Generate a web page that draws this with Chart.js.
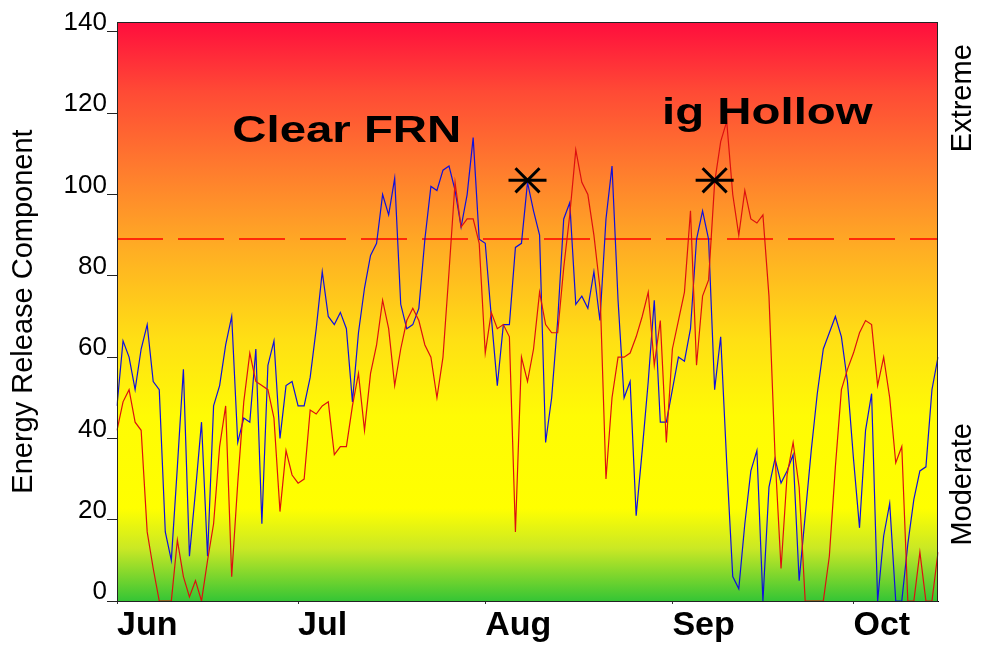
<!DOCTYPE html>
<html>
<head>
<meta charset="utf-8">
<script src="https://cdn.jsdelivr.net/npm/chart.js@4.4.1/dist/chart.umd.min.js"></script>
<style>
  html, body { margin: 0; padding: 0; background: #fff; }
  #wrap { width: 982px; height: 645px; }
</style>
</head>
<body>
<div id="wrap"><canvas id="myChart" width="982" height="645"></canvas></div>
<script>
// daily values, Jun 1 .. Oct 15
const blueValues = [
  48, 64, 60, 52, 62, 68, 54, 52, 17, 10, 33, 57, 11, 27, 44, 11, 48, 53, 63, 70,
  39, 45, 44, 62, 19, 58, 64, 40, 53, 54, 48, 48, 55, 67, 81, 70, 68, 71, 67, 49,
  66, 77, 85, 88, 100, 95, 104, 73, 67, 68, 72, 89, 102, 101, 106, 107, 101, 92, 100, 114,
  89, 88, 70, 53, 68, 68, 87, 88, 103, 96, 90, 39, 50, 69, 94, 98, 73, 75, 72, 81,
  69, 94, 107, 74, 50, 54, 21, 37, 54, 74, 44, 44, 52, 60, 59, 67, 89, 96, 89, 52,
  65, 34, 6, 3, 19, 32, 37, 0, 28, 35, 29, 32, 36, 5, 21, 37, 51, 62, 66, 70,
  65, 54, 35, 18, 42, 51, 0, 16, 24, 0, 0, 14, 25, 32, 33, 52, 60
];
const redValues = [
  42, 49, 52, 44, 42, 17, 8, 0, 0, 0, 15, 6, 1, 5, 0, 10, 19, 38, 48, 6,
  29, 49, 61, 54, 53, 52, 45, 22, 37, 31, 29, 30, 47, 46, 48, 49, 36, 38, 38, 48,
  56, 42, 56, 63, 74, 67, 53, 62, 69, 72, 69, 63, 60, 50, 60, 81, 103, 92, 94, 94,
  88, 61, 71, 67, 68, 65, 17, 60, 54, 62, 76, 68, 66, 66, 82, 95, 111, 103, 100, 90,
  77, 30, 50, 60, 60, 61, 65, 70, 76, 58, 69, 39, 62, 69, 76, 96, 58, 75, 79, 103,
  113, 118, 100, 90, 101, 94, 93, 95, 75, 36, 8, 31, 39, 28, 0, 0, 0, 0, 11, 33,
  52, 57, 61, 66, 69, 68, 53, 60, 50, 34, 38, 0, 0, 12, 0, 0, 12
];
const monthNames = ['Jun', 'Jul', 'Aug', 'Sep', 'Oct'];
const monthStarts = [0, 30, 61, 92, 122];
const starDays = [68, 99];
const starValues = [103.5, 103.5];
const thresholdValue = 89;
const yTicks = [0, 20, 40, 60, 80, 100, 120, 140];

// one label per day
const labels = [];
const start = new Date(2000, 5, 1);
for (let i = 0; i < blueValues.length; i++) {
  const d = new Date(start.getTime() + i * 86400000);
  labels.push((d.getMonth() + 1) + '/' + d.getDate());
}

const starPoints = starDays.map((d, i) => ({ x: labels[d], y: starValues[i] }));

const notes = [
  { text: 'Clear FRN', day: 19.1, value: 112.9 },
  { text: 'ig Hollow', day: 90.3, value: 117.4 }
];
const sideNotes = [
  { text: 'Extreme', value: 123.7 },
  { text: 'Moderate', value: 28.7 }
];

const bgPlugin = {
  id: 'bg',
  beforeDraw(chart) {
    const { ctx, chartArea: a } = chart;
    const g = ctx.createLinearGradient(0, a.top, 0, a.bottom);
    g.addColorStop(0.00, '#ff0d3d');
    g.addColorStop(0.12, '#ff4a35');
    g.addColorStop(0.25, '#ff7a2e');
    g.addColorStop(0.40, '#ffb023');
    g.addColorStop(0.55, '#ffe014');
    g.addColorStop(0.68, '#fffb05');
    g.addColorStop(0.84, '#ffff00');
    g.addColorStop(0.91, '#c9e825');
    g.addColorStop(1.00, '#35c535');
    ctx.save();
    ctx.fillStyle = g;
    ctx.fillRect(a.left, a.top, a.right - a.left, a.bottom - a.top);
    ctx.restore();
  },
  beforeDatasetsDraw(chart) {
    const { ctx, chartArea: a, scales } = chart;
    const y = Math.round(scales.y.getPixelForValue(thresholdValue));
    ctx.save();
    ctx.strokeStyle = '#ff0000';
    ctx.lineWidth = 1.3;
    ctx.setLineDash([46, 15]);
    ctx.beginPath();
    ctx.moveTo(a.left, y);
    ctx.lineTo(a.right, y);
    ctx.stroke();
    ctx.restore();
  },
  afterDatasetsDraw(chart) {
    const { ctx, scales } = chart;
    ctx.save();
    ctx.fillStyle = '#000';
    ctx.font = 'bold 37px "Liberation Sans"';
    ctx.textBaseline = 'alphabetic';
    notes.forEach(n => {
      ctx.save();
      ctx.translate(scales.x.getPixelForValue(n.day), scales.y.getPixelForValue(n.value));
      ctx.scale(1.28, 1);
      ctx.fillText(n.text, 0, 0);
      ctx.restore();
    });
    ctx.restore();
  },
  afterDraw(chart) {
    const { ctx, chartArea: a, scales } = chart;
    ctx.save();
    ctx.strokeStyle = '#222';
    ctx.lineWidth = 1;
    ctx.strokeRect(a.left + 0.5, a.top + 0.5, a.right - a.left - 1, a.bottom - a.top);
    ctx.fillStyle = '#000';
    ctx.font = '29px "Liberation Sans"';
    ctx.textAlign = 'center';
    ctx.textBaseline = 'middle';
    sideNotes.forEach(n => {
      ctx.save();
      ctx.translate(a.right + 25, scales.y.getPixelForValue(n.value));
      ctx.rotate(-Math.PI / 2);
      ctx.fillText(n.text, 0, 0);
      ctx.restore();
    });
    ctx.restore();
  }
};

const ctx = document.getElementById('myChart');

const myChart = new Chart(ctx, {
  type: 'line',
  data: {
    labels: labels,
    datasets: [
      {
        label: 'star bar',
        data: starPoints,
        showLine: false,
        pointStyle: 'line',
        pointRadius: 19,
        pointBorderWidth: 3,
        pointBorderColor: '#000',
        pointBackgroundColor: '#000'
      },
      {
        label: 'star cross',
        data: starPoints,
        showLine: false,
        pointStyle: 'crossRot',
        pointRadius: 17,
        pointBorderWidth: 3,
        pointBorderColor: '#000',
        pointBackgroundColor: '#000'
      },
      {
        label: 'red',
        data: redValues,
        borderColor: '#dd1010',
        borderWidth: 1.2,
        pointRadius: 0,
        tension: 0
      },
      {
        label: 'blue',
        data: blueValues,
        borderColor: '#1010dd',
        borderWidth: 1.2,
        pointRadius: 0,
        tension: 0
      }
    ]
  },
  options: {
    responsive: false,
    animation: false,
    layout: { padding: { left: 0, right: 44, top: 19, bottom: 0 } },
    plugins: {
      legend: { display: false },
      tooltip: { enabled: false }
    },
    scales: {
      x: {
        afterFit: s => { s.height = 44; },
        ticks: {
          autoSkip: false,
          maxRotation: 0,
          minRotation: 0,
          align: 'start',
          padding: 1,
          color: '#000',
          font: { family: 'Liberation Sans', size: 34, weight: 'bold' },
          callback: (v, i) => {
            const k = monthStarts.indexOf(i);
            return k >= 0 ? monthNames[k] : '';
          }
        },
        grid: {
          drawOnChartArea: false,
          tickLength: 3,
          color: c => monthStarts.includes(c.index) ? '#333' : 'rgba(0,0,0,0)'
        },
        border: { display: true, color: '#000' }
      },
      y: {
        min: 0,
        max: 142.45,
        afterFit: s => { s.width = 117; },
        afterBuildTicks: s => { s.ticks = yTicks.map(v => ({ value: v })); },
        ticks: {
          color: '#000',
          padding: 0,
          labelOffset: -9,
          font: { family: 'Liberation Sans', size: 26 }
        },
        grid: { drawOnChartArea: false, tickLength: 10, color: '#222' },
        border: { display: true, color: '#000' },
        title: {
          display: true,
          text: 'Energy Release Component',
          color: '#000',
          font: { family: 'Liberation Sans', size: 29 },
          padding: { top: 7, bottom: 0 }
        }
      }
    }
  },
  plugins: [bgPlugin]
});
</script>
</body>
</html>
